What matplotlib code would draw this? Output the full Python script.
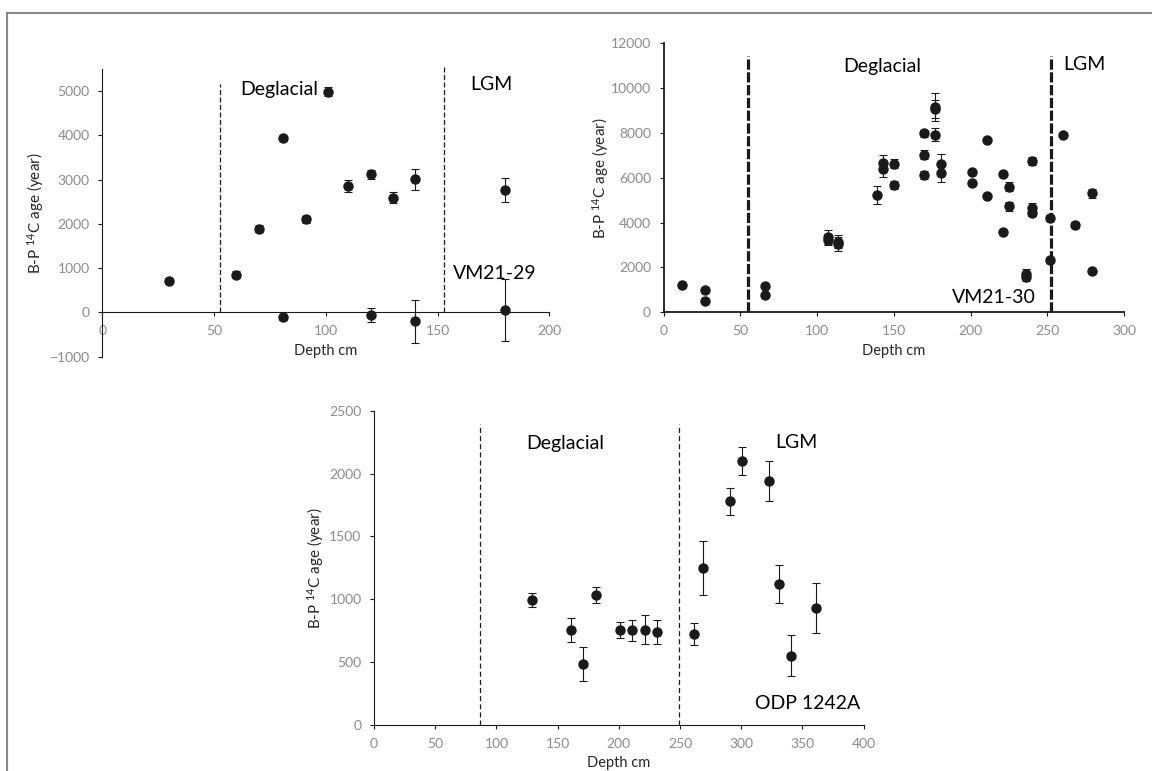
import matplotlib
matplotlib.use('Agg')
import matplotlib.pyplot as plt
from matplotlib.lines import Line2D

plt.rcParams['font.family'] = ['Lato', 'DejaVu Sans']
plt.rcParams['mathtext.default'] = 'regular'

# VM21-29
vm29_depth = [30, 60, 70, 81, 81, 91, 101, 110, 120, 120, 130, 140, 140, 180, 180]
vm29_age = [720, 850, 1890, 3930, -110, 2100, 4990, 2860, 3120, -50, 2590, 3010, -200, 2760, 50]
vm29_err = [60, 80, 80, 60, 60, 80, 100, 130, 100, 160, 120, 240, 490, 270, 700]

# VM21-30
vm30_depth = [12, 27, 27, 66, 66, 107, 107, 114, 114, 139, 143, 143, 150, 150,
              170, 170, 170, 177, 177, 177, 181, 181, 201, 201, 211, 211,
              221, 221, 225, 225, 236, 236, 240, 240, 240, 252, 252, 260, 268, 279, 279]
vm30_age = [1200, 1010, 510, 1190, 780, 3350, 3230, 3150, 3050, 5250, 6680, 6380, 6620, 5660,
            7990, 7020, 6120, 9150, 9080, 7930, 6620, 6220, 6270, 5770, 7680, 5200,
            6150, 3570, 5600, 4740, 1720, 1580, 6750, 4660, 4450, 4200, 2330, 7900, 3900, 5300, 1840]
vm30_err = [50, 50, 50, 50, 50, 300, 250, 300, 300, 400, 330, 350, 200, 180,
            150, 200, 180, 620, 400, 280, 430, 400, 80, 80, 80, 80,
            80, 80, 200, 200, 200, 200, 180, 200, 150, 120, 150, 60, 150, 200, 100]

# ODP 1242A
odp_depth = [129, 161, 171, 181, 201, 211, 221, 231, 261, 269, 291, 301, 323, 331, 341, 361]
odp_age = [995, 755, 485, 1035, 757, 752, 757, 740, 723, 1250, 1780, 2100, 1940, 1118, 551, 930]
odp_err = [55, 93, 132, 66, 66, 82, 114, 95, 85, 217, 106, 111, 161, 151, 162, 201]

W, H = 1152, 771


def box(x0, y_top, x1, y_bot):
    # pixel box -> figure fraction rect
    return [x0 / W, 1 - y_bot / H, (x1 - x0) / W, (y_bot - y_top) / H]


def setup(ax, xmax, yticks, ylim, spine_lw, ypad):
    for s in ('top', 'right'):
        ax.spines[s].set_visible(False)
    for s in ('left', 'bottom'):
        ax.spines[s].set_linewidth(spine_lw)
        ax.spines[s].set_color('#1a1a1a')
    ax.spines['bottom'].set_position(('data', 0))
    ax.set_xlim(0, xmax)
    ax.set_ylim(*ylim)
    ax.set_xticks(range(0, xmax + 1, 50))
    ax.set_yticks(yticks)
    ax.tick_params(direction='out', length=3, width=0.8, color='#1a1a1a',
                   labelcolor='#8c8c8c', labelsize=10, pad=6)
    ax.set_xlabel('Depth cm', fontsize=10.5, color='#262626', labelpad=5)
    ax.set_ylabel('B-P $^{14}$C age (year)', fontsize=11, color='#262626', labelpad=ypad)
    ax.patch.set_alpha(0)


def points(ax, d, a, e):
    ax.errorbar(d, a, yerr=e, fmt='o', ms=6.5, color='#1a1a1a', ecolor='#1a1a1a',
                elinewidth=0.8, capsize=2.8, capthick=0.8, clip_on=False)


def vline(ax, x, y0, y1, lw, dashes):
    ax.plot([x, x], [y0, y1], color='#1a1a1a', lw=lw, dashes=dashes, clip_on=False)


fig = plt.figure(figsize=(W / 100, H / 100), dpi=100)

# frame
fig.add_artist(Line2D([7 / W, 1], [1 - 13.3 / H, 1 - 13.3 / H], color='#888888', lw=1.5))
fig.add_artist(Line2D([7 / W, 7 / W], [0, 1 - 13.3 / H], color='#888888', lw=1.5))

ax1 = fig.add_axes(box(102.3, 69, 549.3, 356.7))
setup(ax1, 200, range(-1000, 5001, 1000), (-1000, 5500), 0.8, 3)
vline(ax1, 52.8, 0, 5150, 0.9, (4, 2))
vline(ax1, 153, 0, 5570, 0.9, (4, 2))
points(ax1, vm29_depth, vm29_age, vm29_err)
ax1.text(61.6, 5040, 'Deglacial', fontsize=14, va='center')
ax1.text(164.7, 5150, 'LGM', fontsize=14, va='center')
ax1.text(157, 880, 'VM21-29', fontsize=14, va='center')

ax2 = fig.add_axes(box(663.5, 43.3, 1124, 312.3))
setup(ax2, 300, range(0, 12001, 2000), (0, 12000), 1.3, 0)
vline(ax2, 55.3, 0, 11450, 2.3, (3.2, 0.8))
vline(ax2, 252.7, 0, 11450, 2.3, (3.2, 0.8))
points(ax2, vm30_depth, vm30_age, vm30_err)
ax2.text(117, 10970, 'Deglacial', fontsize=14, va='center')
ax2.text(260.7, 11050, 'LGM', fontsize=14, va='center')
ax2.text(188, 640, 'VM21-30', fontsize=14, va='center')

ax3 = fig.add_axes(box(374, 410.7, 863.7, 725))
setup(ax3, 400, range(0, 2501, 500), (0, 2500), 0.8, 2)
vline(ax3, 86.6, 0, 2397, 0.9, (4, 2.5))
vline(ax3, 249, 0, 2397, 0.9, (4, 2.5))
points(ax3, odp_depth, odp_age, odp_err)
ax3.text(124, 2238, 'Deglacial', fontsize=14, va='center')
ax3.text(328, 2246, 'LGM', fontsize=14, va='center')
ax3.text(397, 172, 'ODP 1242A', fontsize=14, va='center', ha='right')

fig.savefig('out.png', dpi=100)
